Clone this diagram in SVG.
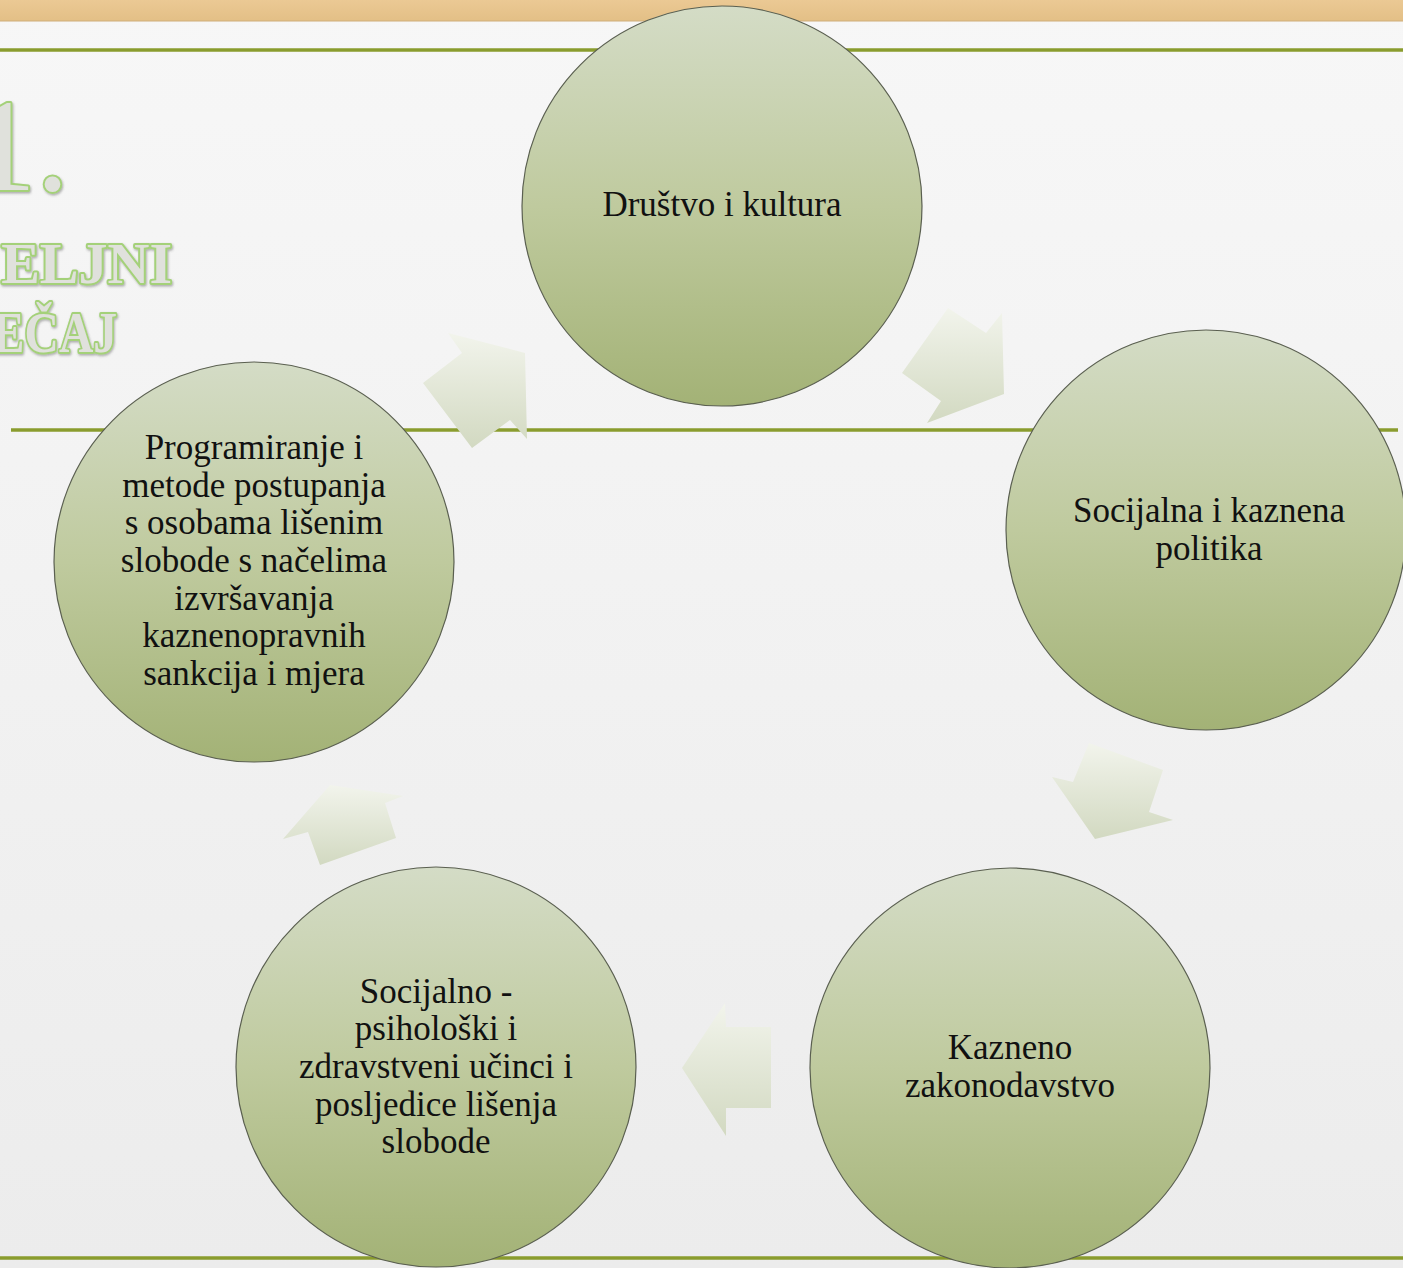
<svg xmlns="http://www.w3.org/2000/svg" width="1403" height="1268" viewBox="0 0 1403 1268">
<defs>
<linearGradient id="bg" x1="0" y1="0" x2="0" y2="1">
<stop offset="0" stop-color="#f7f7f7"/>
<stop offset="1" stop-color="#ececec"/>
</linearGradient>
<linearGradient id="circ" x1="0" y1="0" x2="0" y2="1">
<stop offset="0" stop-color="#d4dcc6"/>
<stop offset="0.5" stop-color="#bfca9e"/>
<stop offset="1" stop-color="#a3b276"/>
</linearGradient>
<linearGradient id="arr" x1="0" y1="0" x2="0" y2="1">
<stop offset="0" stop-color="#f2f4ec"/>
<stop offset="1" stop-color="#d2d9c1"/>
</linearGradient>
<linearGradient id="bar" x1="0" y1="0" x2="0" y2="1">
<stop offset="0" stop-color="#ebc994"/>
<stop offset="1" stop-color="#e3bf86"/>
</linearGradient>
<filter id="emb" x="-10%" y="-10%" width="120%" height="130%">
<feDropShadow dx="1" dy="1.5" stdDeviation="1" flood-color="#555" flood-opacity="0.45"/>
</filter>
</defs>
<style>
.node circle{fill:url(#circ);stroke:#5a5f50;stroke-width:1.2}
.lbl{font-family:"Liberation Serif","DejaVu Serif",serif;font-size:35px;fill:#111;text-anchor:middle}
.arrow{fill:url(#arr)}
.rule{stroke:#8a9c2e;stroke-width:3.5}
.title{font-family:"Liberation Serif","DejaVu Serif",serif;fill:#e0e1dc;stroke:#a4d179;stroke-width:4;paint-order:stroke;stroke-linejoin:round;filter:url(#emb)}
</style>
<rect x="0" y="0" width="1403" height="1268" fill="url(#bg)"/>
<rect x="0" y="0" width="1403" height="21" fill="url(#bar)"/>
<line x1="0" y1="21" x2="1403" y2="21" stroke="#cfae7a" stroke-width="1"/>
<g id="rules">
<line class="rule" x1="0" y1="50" x2="1403" y2="50"/>
<line class="rule" x1="11" y1="430" x2="1398" y2="430"/>
<line class="rule" x1="0" y1="1258" x2="1403" y2="1258"/>
</g>
<g id="title">
<text class="title" x="-30" y="190" font-size="132">1.</text>
<text class="title" x="172" y="283" font-size="58" font-weight="bold" text-anchor="end">ELJNI</text>
<text class="title" transform="translate(117,352) scale(0.82,1)" x="0" y="0" font-size="58" font-weight="bold" text-anchor="end">EČAJ</text>
</g>
<g id="connectors">
<polygon class="arrow" points="902,373 948,308 986,333 1002,313 1004,394 927,423 941,401"/>
<polygon class="arrow" points="1052,777 1073,782 1089,743 1163,770 1149,812 1173,820 1095,839"/>
<polygon class="arrow" points="682,1068 725,1003 726,1027 771,1027 771,1108 726,1108 726,1136"/>
<polygon class="arrow" points="283,839 330,785 403,796 385,803 396,838 320,865 308,832"/>
<polygon class="arrow" points="423,383 462,353 448,333 525,353 527,439 510,420 472,448"/>
</g>
<g id="node1" class="node">
<circle cx="722" cy="206" r="200"/>
<text class="lbl" x="722" y="216">Društvo i kultura</text>
</g>
<g id="node2" class="node">
<circle cx="1206" cy="530" r="200"/>
<text class="lbl" x="1209" y="522">Socijalna i kaznena</text>
<text class="lbl" x="1209" y="560">politika</text>
</g>
<g id="node3" class="node">
<circle cx="1010" cy="1068" r="200"/>
<text class="lbl" x="1010" y="1059">Kazneno</text>
<text class="lbl" x="1010" y="1097">zakonodavstvo</text>
</g>
<g id="node4" class="node">
<circle cx="436" cy="1067" r="200"/>
<text class="lbl" x="436" y="1003">Socijalno -</text>
<text class="lbl" x="436" y="1040">psihološki i</text>
<text class="lbl" x="436" y="1078">zdravstveni učinci i</text>
<text class="lbl" x="436" y="1116">posljedice lišenja</text>
<text class="lbl" x="436" y="1153">slobode</text>
</g>
<g id="node5" class="node">
<circle cx="254" cy="562" r="200"/>
<text class="lbl" x="254" y="459">Programiranje i</text>
<text class="lbl" x="254" y="497">metode postupanja</text>
<text class="lbl" x="254" y="534">s osobama lišenim</text>
<text class="lbl" x="254" y="572">slobode s načelima</text>
<text class="lbl" x="254" y="610">izvršavanja</text>
<text class="lbl" x="254" y="647">kaznenopravnih</text>
<text class="lbl" x="254" y="685">sankcija i mjera</text>
</g>
</svg>
